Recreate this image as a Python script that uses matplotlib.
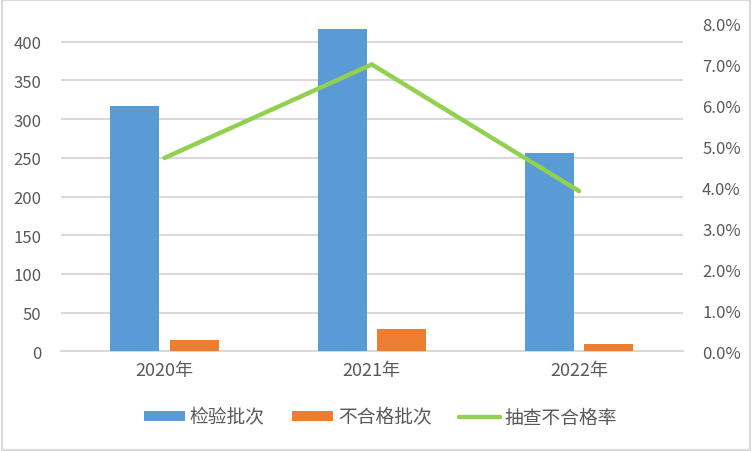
import numpy as np
import matplotlib.pyplot as plt
from matplotlib.ticker import FuncFormatter
from matplotlib.patches import Rectangle

plt.rcParams['font.family'] = ['Noto Sans CJK SC', 'DejaVu Sans']

# data
years = ['2020年', '2021年', '2022年']
inspected = [317, 417, 256]
failed = [15, 29, 10]
fail_rate = [0.0472, 0.0700, 0.0391]

blue = '#5B9BD5'
orange = '#ED7D31'
green = '#92D050'
grid_c = '#D9D9D9'
txt_c = '#595959'

fig = plt.figure(figsize=(7.52, 4.52), dpi=100)
ax = fig.add_axes([0.0811, 0.2206, 0.8267, 0.7252])
ax2 = ax.twinx()

x = np.arange(len(years))
w = 0.237
off = 0.1435
ax.bar(x - off, inspected, w, color=blue, label='检验批次', zorder=3)
ax.bar(x + off, failed, w, color=orange, label='不合格批次', zorder=3)
ax2.plot(x, fail_rate, color=green, lw=3.2, solid_capstyle='round',
         solid_joinstyle='miter', label='抽查不合格率', zorder=4)

ax.set_xlim(-0.5, 2.5)
ax.set_ylim(0, 423.6)
ax.set_yticks(np.arange(0, 401, 50))
ax2.set_ylim(0, 0.08)
ax2.set_yticks(np.arange(0, 0.081, 0.01))
ax2.yaxis.set_major_formatter(FuncFormatter(lambda v, p: f'{v*100:.1f}%'))

ax.set_xticks(x)
ax.set_xticklabels(years, fontsize=13)
ax.yaxis.grid(True, color=grid_c, lw=1.5, zorder=0)
ax.set_axisbelow(True)

for a in (ax, ax2):
    for s in a.spines.values():
        s.set_visible(False)
    a.tick_params(length=0, colors=txt_c, labelsize=12)
ax.tick_params(axis='x', labelsize=13)
ax.spines['bottom'].set_visible(True)
ax.spines['bottom'].set_color(grid_c)
ax.spines['bottom'].set_linewidth(1.5)
ax.tick_params(axis='y', pad=14)
ax.tick_params(axis='x', pad=7)
ax2.tick_params(axis='y', pad=14)

h1, l1 = ax.get_legend_handles_labels()
h2, l2 = ax2.get_legend_handles_labels()
fig.legend(h1 + h2, l1 + l2, loc='center', bbox_to_anchor=(0.506, 0.075),
           ncol=3, frameon=False, fontsize=13.5, labelcolor=txt_c,
           handlelength=2.2, handleheight=0.45, columnspacing=1.45,
           handletextpad=0.25)

fig.patches.append(Rectangle((0.002, 0.002), 0.996, 0.996, transform=fig.transFigure,
                             fill=False, edgecolor=grid_c, lw=1.5))

fig.savefig('out.png', dpi=100)
